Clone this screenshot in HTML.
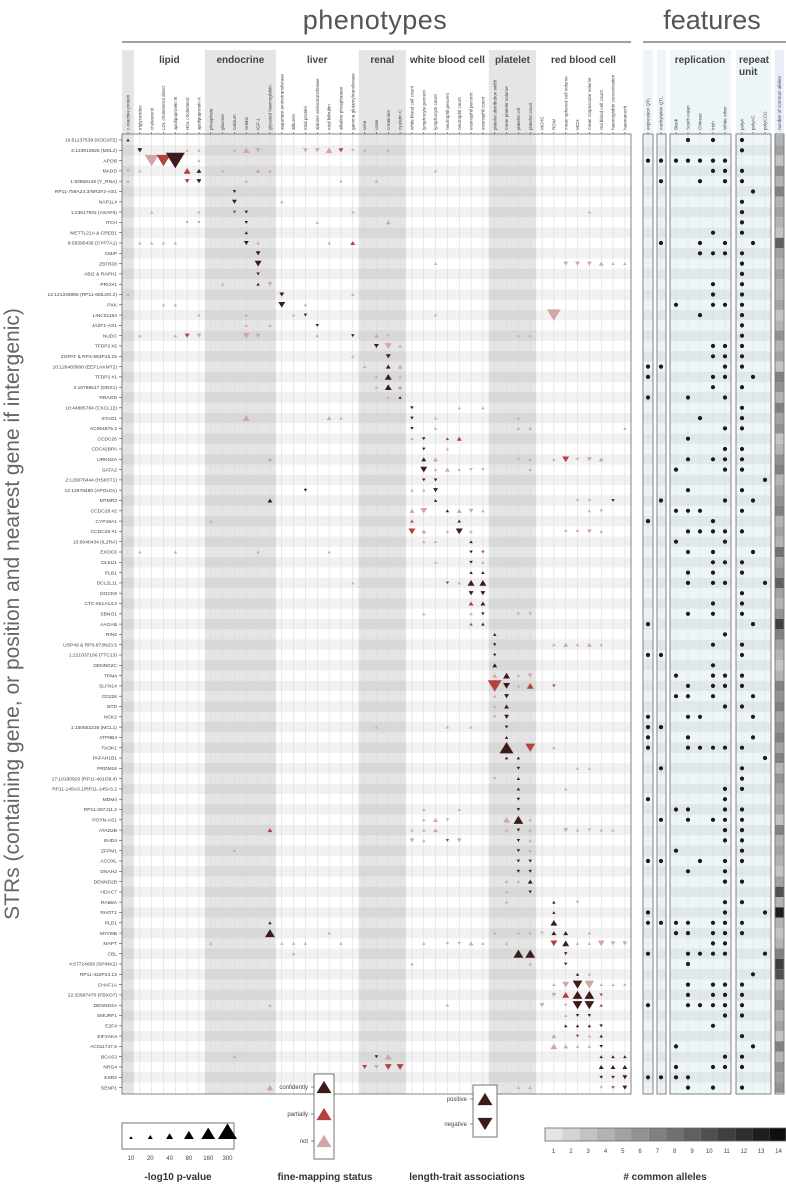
<!DOCTYPE html>
<html><head><meta charset="utf-8"><title>STR phenotype associations</title>
<style>
html,body{margin:0;padding:0;background:#fff;}
svg{display:block;font-family:"Liberation Sans",sans-serif;}
</style></head>
<body>
<svg id="chart" width="786" height="1190" viewBox="0 0 786 1190" xmlns="http://www.w3.org/2000/svg">
<g id="bg"></g><g id="grid"></g><g id="marks"></g><g id="feat"></g><g id="labels"></g><g id="legend"></g>
</svg>
<script>
const rowLabels = ["16:51137539 (SOD1P2)","3:123916825 (MSL2)","APOB","MADD","1:93858126 (Y_RNA)","RP11-759A24.3/NR2F2-AS1","NAP1L4","1:23817932 (ASAP3)","ITCH","METTL21A & CREB1","8:59395436 (CYP7A1)","CMIP","ZBTB38","ABI2 & RAPH1","PROX1","12:121346985 (RP11-665J20.2)","PXK","LINC01184","JAZF1-AS1","NUDC","TFDP2 #2","ZGPAT & RP4-583P15.15","10:126483088 (EEF1AKMT2)","TFDP2 #1","2:15786517 (DDX1)","RRAGD","10:44885784 (CXCL12)","STAG1","AC064875.2","CCDC26","CDC42BPA","URKN2A","GATA2","2:129076444 (HS6ST1)","12:12878480 (APOLD1)","MTMR3","CCDC26 #2","CYP19A1","CCDC26 #1","10:6040434 (IL2RA)","EXOC6","DLEU1","PLB1","BCL2L11","DOCK8","CTC-551A13.2","SBNO1","AAGAB","RIN2","USP49 & RP5-973N23.5","1:221037166 (TTC13)","DENND2C","TPM4","SLFN14","CD226","BTD","NCK2","1:150552235 (MCL1)","ATP8B4","TAOK1","PAFAH1B1","PRDM16","17:10180929 (RP11-401O9.4)","RP11-145A3.1/RP11-145A3.2","MDM4","RP11-287J11.2","POYN-AS1","ATAD2B","EHD4","ZFPM1","ACOXL","DNAH2","DENND2B","HDAC7","RAB8A","RHOT1","PLD1","MYO9B","MAPT","CBL","4:57724658 (SPINK2)","RP11-422P24.13","CHAF1A","22:32897470 (FBXO7)","DENND4A","SMURF1","E2F4","EIF2AK4","AC011747.6","BCAS3","NRG4","ESR2","SENP1"];
const colLabels = ["c-reactive protein","triglycerides","cholesterol","LDL cholesterol direct","apolipoprotein B","HDL cholesterol","apolipoprotein A","phosphate","glucose","calcium","SHBG","IGF-1","glycated haemoglobin","aspartate aminotransferase","albumin","total protein","alanine aminotransferase","total bilirubin","alkaline phosphatase","gamma glutamyltransferase","urea","urate","creatinine","cystatin C","white blood cell count","lymphocyte percent","lymphocyte count","neutrophil percent","neutrophil count","eosinophil percent","eosinophil count","platelet distribution width","mean platelet volume","platelet crit","platelet count","MCHC","RDW","mean sphered cell volume","MCH","mean corpuscular volume","red blood cell count","haemoglobin concentration","haematocrit"];
const groupNames = ["lipid","endocrine","liver","renal","white blood cell","platelet","red blood cell"];
const groupStart = [1,7,13,20,24,31,35];
const groupEnd = [6,12,19,23,30,34,42];
const groupShaded = [0,1,0,1,0,1,0];
// marks: [row, col, -log10 p, status (c=confidently,p=partially,n=not), direction (u/d)]
const marks = [
[0,0,10,'c','u'],
[1,1,20,'c','d'],[1,5,10,'n','u'],[1,6,10,'n','u'],[1,9,10,'n','u'],[1,10,40,'n','u'],[1,11,20,'n','d'],[1,15,20,'n','d'],[1,16,20,'n','d'],[1,17,40,'n','u'],[1,18,20,'p','d'],[1,19,10,'n','d'],[1,20,10,'n','u'],[1,22,10,'n','u'],
[2,2,160,'n','d'],[2,3,160,'p','d'],[2,4,300,'c','d'],[2,6,10,'n','u'],
[3,0,10,'n','d'],[3,1,10,'n','u'],[3,5,40,'p','u'],[3,6,20,'c','u'],[3,8,10,'n','u'],[3,11,20,'n','u'],[3,12,10,'n','u'],[3,26,10,'n','u'],
[4,0,10,'n','u'],[4,5,20,'p','d'],[4,6,20,'c','d'],[4,10,10,'n','u'],[4,18,10,'n','u'],[4,21,10,'n','u'],
[5,9,10,'c','d'],
[6,9,20,'c','d'],[6,13,10,'n','u'],
[7,2,10,'n','u'],[7,6,10,'n','u'],[7,9,10,'p','d'],[7,10,10,'c','d'],[7,19,10,'n','u'],[7,39,10,'n','u'],
[8,5,10,'n','d'],[8,6,10,'n','d'],[8,10,10,'c','d'],[8,16,10,'n','u'],[8,22,20,'n','u'],
[9,10,10,'c','u'],
[10,1,10,'n','u'],[10,2,10,'n','u'],[10,3,10,'n','u'],[10,4,10,'n','u'],[10,10,20,'c','d'],[10,11,10,'n','u'],[10,17,10,'n','u'],[10,19,20,'p','u'],
[11,11,20,'c','d'],
[12,11,40,'c','d'],[12,26,10,'n','u'],[12,37,20,'n','d'],[12,38,20,'n','d'],[12,39,20,'n','d'],[12,40,20,'n','u'],[12,41,10,'n','u'],[12,42,10,'n','u'],
[13,11,10,'c','d'],
[14,8,10,'n','u'],[14,11,10,'c','u'],[14,12,20,'n','d'],
[15,0,10,'n','u'],[15,13,20,'c','d'],[15,19,10,'n','u'],
[16,3,10,'n','u'],[16,4,10,'n','u'],[16,13,40,'c','d'],[16,15,10,'n','u'],
[17,6,10,'n','u'],[17,10,10,'n','u'],[17,14,10,'n','u'],[17,15,10,'c','d'],[17,26,10,'n','u'],[17,36,160,'n','d'],
[18,10,10,'n','u'],[18,12,10,'n','u'],[18,16,10,'c','d'],
[19,1,10,'n','u'],[19,4,10,'n','u'],[19,5,20,'p','d'],[19,6,20,'n','d'],[19,10,40,'n','d'],[19,11,20,'n','d'],[19,16,10,'n','u'],[19,19,10,'c','d'],[19,21,20,'n','u'],[19,22,10,'n','d'],[19,33,10,'n','u'],[19,34,10,'n','u'],
[20,21,20,'c','d'],[20,22,40,'n','d'],[20,23,10,'n','u'],
[21,19,10,'n','u'],[21,22,20,'c','d'],
[22,20,10,'n','u'],[22,22,20,'c','u'],[22,23,20,'n','u'],
[23,21,10,'n','u'],[23,22,40,'c','u'],[23,23,10,'n','u'],
[24,21,10,'n','u'],[24,22,40,'c','u'],[24,23,20,'n','u'],
[25,22,10,'n','u'],[25,23,10,'c','u'],
[26,24,10,'c','d'],[26,28,10,'n','u'],[26,30,10,'n','u'],
[27,10,40,'n','u'],[27,17,20,'n','u'],[27,18,10,'n','u'],[27,24,10,'c','d'],[27,26,10,'n','u'],[27,33,10,'n','u'],
[28,24,10,'c','d'],[28,26,10,'n','u'],[28,33,10,'n','u'],[28,34,10,'n','u'],[28,42,10,'n','u'],
[29,24,10,'n','u'],[29,25,10,'c','d'],[29,27,10,'p','u'],[29,28,20,'p','u'],
[30,25,10,'c','d'],[30,27,10,'n','u'],
[31,12,20,'n','u'],[31,25,20,'c','u'],[31,26,20,'n','u'],[31,33,10,'n','d'],[31,34,10,'n','u'],[31,36,10,'n','u'],[31,37,40,'p','d'],[31,38,10,'n','d'],[31,39,20,'n','d'],[31,40,20,'n','u'],
[32,25,40,'c','d'],[32,26,10,'n','u'],[32,27,20,'n','u'],[32,28,10,'n','u'],[32,29,10,'n','d'],[32,30,10,'n','d'],[32,34,10,'n','u'],
[33,25,10,'c','d'],[33,26,10,'c','d'],
[34,15,10,'c','d'],[34,24,10,'n','u'],[34,25,10,'n','u'],[34,26,20,'c','d'],
[35,12,20,'c','u'],[35,26,10,'c','u'],[35,38,10,'n','d'],[35,39,10,'n','d'],[35,41,10,'c','d'],
[36,24,20,'n','u'],[36,25,40,'n','d'],[36,27,10,'c','u'],[36,28,20,'n','u'],[36,29,20,'n','d'],[36,30,10,'n','u'],[36,39,10,'n','u'],[36,40,10,'n','d'],
[37,7,10,'n','u'],[37,24,10,'p','u'],[37,28,10,'c','u'],
[38,24,40,'p','d'],[38,25,20,'n','u'],[38,27,10,'n','u'],[38,28,40,'c','d'],[38,29,10,'n','u'],[38,37,10,'n','d'],[38,38,10,'n','d'],[38,39,20,'n','d'],[38,40,10,'n','u'],
[39,25,10,'n','u'],[39,26,10,'n','u'],[39,29,10,'c','u'],
[40,1,10,'n','u'],[40,4,10,'n','u'],[40,11,10,'n','u'],[40,17,10,'n','u'],[40,29,10,'c','d'],[40,30,10,'p','d'],
[41,26,10,'n','u'],[41,29,10,'c','d'],[41,30,10,'n','u'],
[42,29,10,'c','u'],[42,30,10,'c','u'],
[43,19,10,'n','u'],[43,27,10,'p','d'],[43,28,10,'n','u'],[43,29,40,'c','u'],[43,30,40,'c','u'],
[44,29,20,'c','d'],[44,30,20,'c','d'],
[45,29,20,'p','u'],[45,30,20,'c','u'],
[46,25,10,'n','u'],[46,29,10,'n','u'],[46,30,10,'c','d'],[46,33,10,'n','d'],[46,34,10,'n','d'],
[47,29,10,'p','u'],[47,30,10,'c','u'],
[48,31,10,'c','u'],
[49,31,10,'c','d'],[49,36,10,'n','u'],[49,37,20,'n','u'],[49,38,10,'n','u'],[49,39,20,'n','u'],[49,40,10,'n','u'],
[50,31,10,'c','d'],
[51,31,20,'c','u'],
[52,31,20,'n','u'],[52,32,40,'c','u'],[52,33,10,'n','u'],[52,34,20,'n','d'],
[53,31,160,'p','d'],[53,32,40,'c','d'],[53,33,10,'n','u'],[53,34,40,'p','u'],[53,36,10,'p','d'],
[54,31,10,'n','u'],[54,32,20,'c','d'],
[55,31,10,'n','u'],[55,32,20,'c','u'],
[56,31,10,'n','d'],[56,32,20,'c','d'],
[57,21,10,'n','u'],[57,27,10,'n','u'],[57,29,10,'n','u'],[57,32,10,'c','d'],
[58,32,10,'c','u'],
[59,32,160,'c','u'],[59,34,80,'p','d'],[59,36,10,'n','u'],
[60,32,10,'c','u'],[60,33,10,'c','u'],
[61,33,10,'c','d'],[61,38,10,'n','u'],[61,39,10,'n','u'],
[62,31,10,'n','d'],[62,33,10,'c','u'],
[63,33,10,'c','u'],[63,37,10,'n','u'],
[64,33,10,'c','d'],
[65,25,10,'n','u'],[65,28,10,'n','u'],[65,33,10,'c','d'],
[66,25,10,'n','u'],[66,26,20,'n','u'],[66,27,10,'n','d'],[66,32,40,'n','u'],[66,33,80,'c','u'],[66,34,10,'n','u'],
[67,12,20,'p','u'],[67,24,10,'n','u'],[67,25,10,'n','u'],[67,26,20,'n','u'],[67,32,10,'n','u'],[67,33,10,'c','d'],[67,34,10,'n','u'],[67,37,20,'n','d'],[67,38,10,'n','u'],[67,39,10,'n','d'],[67,40,10,'n','u'],[67,41,10,'n','u'],
[68,24,20,'n','d'],[68,25,10,'n','u'],[68,27,10,'p','d'],[68,28,20,'n','d'],[68,33,10,'c','d'],[68,34,10,'n','u'],
[69,9,10,'n','u'],[69,33,10,'c','d'],[69,34,10,'n','u'],
[70,33,10,'c','d'],[70,34,10,'c','d'],
[71,33,10,'c','d'],[71,34,10,'c','d'],
[72,32,10,'n','u'],[72,33,10,'n','u'],[72,34,20,'c','u'],
[73,32,10,'n','u'],[73,34,10,'c','d'],
[74,32,10,'n','u'],[74,36,10,'c','u'],[74,38,10,'n','d'],
[75,36,10,'c','u'],
[76,12,10,'c','u'],[76,36,40,'c','u'],
[77,12,80,'c','u'],[77,17,10,'n','u'],[77,31,10,'n','u'],[77,33,10,'n','u'],[77,34,10,'n','u'],[77,35,10,'n','d'],[77,36,20,'c','u'],[77,37,20,'c','u'],[77,39,10,'n','u'],
[78,7,10,'n','u'],[78,13,10,'n','u'],[78,14,10,'n','u'],[78,15,10,'n','u'],[78,18,10,'n','u'],[78,25,10,'n','u'],[78,27,10,'n','d'],[78,28,10,'n','d'],[78,29,20,'n','u'],[78,30,10,'n','u'],[78,32,10,'n','u'],[78,36,40,'p','d'],[78,37,40,'c','u'],[78,38,10,'n','u'],[78,39,10,'n','u'],[78,40,40,'n','d'],[78,41,20,'n','d'],[78,42,20,'n','d'],
[79,14,10,'n','u'],[79,33,80,'c','u'],[79,34,80,'c','u'],[79,37,10,'c','d'],
[80,24,10,'n','u'],[80,34,10,'n','u'],[80,37,10,'c','d'],
[81,38,10,'c','u'],[81,39,10,'n','u'],
[82,36,10,'n','u'],[82,37,40,'n','d'],[82,38,80,'c','d'],[82,39,80,'n','d'],[82,40,10,'n','u'],[82,41,10,'n','u'],[82,42,10,'n','u'],
[83,36,20,'n','d'],[83,37,40,'p','u'],[83,38,80,'c','u'],[83,39,80,'c','u'],[83,40,10,'p','d'],
[84,12,10,'n','u'],[84,27,10,'n','u'],[84,35,20,'n','d'],[84,37,10,'n','d'],[84,38,80,'c','d'],[84,39,80,'c','d'],[84,40,10,'p','u'],
[85,37,10,'n','u'],[85,38,10,'c','d'],[85,39,10,'c','d'],
[86,37,10,'c','u'],[86,38,10,'c','u'],[86,39,10,'c','u'],[86,40,10,'c','d'],
[87,36,20,'n','u'],[87,38,10,'p','d'],[87,39,10,'n','u'],[87,40,10,'c','u'],
[88,36,40,'n','u'],[88,37,20,'n','u'],[88,38,10,'n','u'],[88,39,10,'n','u'],[88,40,10,'c','d'],
[89,9,10,'n','u'],[89,21,10,'c','d'],[89,22,40,'n','u'],[89,40,10,'c','u'],[89,41,10,'c','u'],[89,42,10,'c','u'],
[90,20,20,'p','d'],[90,21,20,'n','d'],[90,22,40,'p','d'],[90,23,40,'p','d'],[90,40,20,'c','u'],[90,41,20,'c','u'],[90,42,20,'c','u'],
[91,40,10,'c','d'],[91,41,10,'c','d'],[91,42,20,'c','d'],
[92,12,40,'n','u'],[92,33,10,'n','u'],[92,34,10,'n','u'],[92,40,10,'n','d'],[92,41,10,'p','d'],[92,42,20,'c','d']
];
const featLabels = ["expression QTL","methylation QTL","Black","South Asian","Chinese","Irish","White other","polyA","polyAC","polyCCG"];
const featRows = [[3,5,7],[7],[0,1,2,3,4,5,6],[5,6,7],[1,4,6,7],[8],[7],[7],[7],[5,7],[1,4,6,8],[4,5,6,7],[7],[7],[5,7],[5,7],[2,5,6,7],[4,7],[7],[7],[5,6,7],[5,6,7],[0,1,6,7],[0,5,6,8],[5,7],[0,3,6],[7],[4,7],[6,7],[3],[6,7],[3,5,6,7],[2,6,7],[9],[3,7],[1,6,8],[2,3,4,7],[0,5],[3,4,5,6,7],[2,6],[3,5,8],[5,6,7],[3,5,7],[3,5,6,9],[7],[5,7],[3,5,7],[0,8],[6],[5,7],[0,1,7],[5],[2,5,6,7],[3,5,6,7],[2,3,5,8],[6,7],[0,3,4,8],[0,1],[0,3,8],[0,3,4,5,6,7],[9],[1,7],[7],[6,7],[0,6],[2,3,6,7],[1,3,5,6,7],[6,7],[6,7],[2,7],[0,1,4,6,7],[3,6],[6,7],[],[6,7],[0,6,9],[0,1,2,3,5,6,7],[2,3,5,6,7],[5,6],[0,3,4,5,6,9],[3],[8],[3,5,6,7],[3,5,6,7],[0,3,4,5,6,7],[6,7],[5],[7],[2,8],[6,7],[2,5,6,7],[0,1,2,3],[3,5,7]];
const commonAlleles = [4,5,3,6,4,7,4,5,4,3,9,5,4,5,4,4,5,3,4,6,4,5,3,7,6,4,7,5,6,3,4,6,7,4,5,6,7,4,5,4,8,5,6,9,5,4,6,11,7,5,4,3,4,7,6,7,5,6,7,5,7,4,6,5,4,5,3,7,4,5,4,3,5,10,4,13,4,3,4,7,11,10,4,5,6,4,5,3,7,4,6,5,6];
const pLegend = [10,20,40,80,160,300];
const alleleTicks = [1,2,3,4,5,6,7,8,9,10,11,12,13,14];

const NS="http://www.w3.org/2000/svg";
function mk(parent,tag,attrs,text){const e=document.createElementNS(NS,tag);for(const k in attrs)e.setAttribute(k,attrs[k]);if(text!==undefined)e.textContent=text;parent.appendChild(e);return e;}
const X0=128, DX=11.83, Y0=140, DY=10.3;
const gL=122, gR=631, gT=134, gB=1094;
const colX=c=>X0+c*DX;
const rowY=r=>Y0+r*DY;
const triW=p=>1.1*Math.sqrt(p);
const statusColor={c:'#3d1b19',p:'#b3423a',n:'#d2a6a4'};
const alleleGray=v=>{const l=Math.round(228-(v-1)*16.5);return `rgb(${l},${l},${l+2})`;};
function tri(parent,x,y,w,dir,fill){const h=w*0.82;const pts=dir==='u'?`${x},${y-h/2} ${x-w/2},${y+h/2} ${x+w/2},${y+h/2}`:`${x},${y+h/2} ${x-w/2},${y-h/2} ${x+w/2},${y-h/2}`;return mk(parent,'polygon',{points:pts,fill:fill});}

const bg=document.getElementById('bg'),grid=document.getElementById('grid'),mg=document.getElementById('marks'),fg=document.getElementById('feat'),lg=document.getElementById('labels'),leg=document.getElementById('legend');

// titles
let t=mk(lg,'text',{x:375,y:29,'text-anchor':'middle','font-size':27,fill:'#555','letter-spacing':'0.5'},'phenotypes');

mk(lg,'line',{x1:gL,y1:42,x2:gR,y2:42,stroke:'#666','stroke-width':1.2});
t=mk(lg,'text',{x:712,y:29,'text-anchor':'middle','font-size':27,fill:'#555'},'features');

mk(lg,'line',{x1:643,y1:42,x2:786,y2:42,stroke:'#666','stroke-width':1.2});
t=mk(lg,'text',{x:0,y:0,'text-anchor':'middle','font-size':21,fill:'#666',transform:'translate(19,614) rotate(-90)'},'STRs (containing gene, or position and nearest gene if intergenic)');


// row stripes in main grid
for(let r=0;r<rowLabels.length;r++){if(r%2===1){mk(bg,'rect',{x:gL,y:rowY(r)-DY/2,width:gR-gL,height:DY,fill:'#f1f1f1'});}}
// shaded columns
const bands=[[colX(0)-DX/2,colX(0)+DX/2]];
for(let g=0;g<groupNames.length;g++){if(groupShaded[g])bands.push([colX(groupStart[g])-DX/2,colX(groupEnd[g])+DX/2]);}
bands.forEach(b=>{mk(bg,'rect',{x:b[0],y:50,width:b[1]-b[0],height:gB-50,fill:'#000','fill-opacity':0.1});});
// vertical lines and ticks
for(let c=0;c<colLabels.length;c++){const x=colX(c);mk(grid,'line',{x1:x,y1:gT,x2:x,y2:gB,stroke:'#d6d6d6','stroke-width':0.5});mk(grid,'line',{x1:x,y1:gT-2,x2:x,y2:gT,stroke:'#444','stroke-width':0.6});
 const cl=mk(lg,'text',{x:0,y:0,'font-size':4.6,fill:'#444',transform:`translate(${x+1.6},${gT-4}) rotate(-90)`},colLabels[c]);
 }
mk(grid,'rect',{x:gL,y:gT,width:gR-gL,height:gB-gT,fill:'none',stroke:'#777','stroke-width':0.9});
// group labels
for(let g=0;g<groupNames.length;g++){const cx=(colX(groupStart[g])+colX(groupEnd[g]))/2;const gl=mk(lg,'text',{x:cx,y:63,'text-anchor':'middle','font-size':10,'font-weight':'bold',fill:'#444'},groupNames[g]);}
// row labels and ticks
for(let r=0;r<rowLabels.length;r++){const y=rowY(r);mk(grid,'line',{x1:gL-3,y1:y,x2:gL,y2:y,stroke:'#444','stroke-width':0.6});const rl=mk(lg,'text',{x:gL-5,y:y+1.7,'text-anchor':'end','font-size':4.9,fill:'#444'},rowLabels[r]);}
// marks
marks.forEach(m=>{const el=tri(mg,colX(m[1]),rowY(m[0]),triW(m[2]),m[4],statusColor[m[3]]);
 
 });

// features panels
const featX=[648,661,676,688,700,713,725,742,753,765];
const panels=[[643,653,'eqtl-panel'],[657,666,'mqtl-panel'],[670,731,'replication-panel'],[736,771,'repeat-unit-panel']];
panels.forEach(p=>{mk(fg,'rect',{x:p[0],y:50,width:p[1]-p[0],height:gB-50,fill:'#eef5f9'});
 for(let r=0;r<rowLabels.length;r++){if(r%2===1)mk(fg,'rect',{x:p[0],y:rowY(r)-DY/2,width:p[1]-p[0],height:DY,fill:'#000','fill-opacity':0.05});}});
mk(fg,'rect',{x:775,y:50,width:9,height:gB-50,fill:'#e8eef8'});
featX.forEach(x=>{mk(fg,'line',{x1:x,y1:gT,x2:x,y2:gB,stroke:'#d5dbe0','stroke-width':0.5});mk(fg,'line',{x1:x,y1:gT-2,x2:x,y2:gT,stroke:'#444','stroke-width':0.6});});
panels.forEach(p=>{const b=mk(fg,'rect',{x:p[0],y:gT,width:p[1]-p[0],height:gB-gT,fill:'none',stroke:'#777','stroke-width':0.9});});
for(let i=0;i<featLabels.length;i++){const fl=mk(lg,'text',{x:0,y:0,'font-size':4.6,fill:'#444',transform:`translate(${featX[i]+1.6},${gT-4}) rotate(-90)`},featLabels[i]);}
let ft=mk(lg,'text',{x:0,y:0,'font-size':4.6,fill:'#444',transform:`translate(781,${gT-4}) rotate(-90)`},'number of common alleles');

ft=mk(lg,'text',{x:700,y:63,'text-anchor':'middle','font-size':10,'font-weight':'bold',fill:'#444'},'replication');

ft=mk(lg,'text',{x:739,y:63,'font-size':10,'font-weight':'bold',fill:'#444'},'repeat');

mk(lg,'text',{x:739,y:75,'font-size':10,'font-weight':'bold',fill:'#444'},'unit');
featRows.forEach((fs,r)=>{fs.forEach(f=>{const d=mk(fg,'circle',{cx:featX[f],cy:rowY(r),r:2.1,fill:'#1a1a1a'});
 
 });});
commonAlleles.forEach((v,r)=>{const c=mk(fg,'rect',{x:775,y:rowY(r)-DY/2,width:9,height:DY,fill:alleleGray(v)});
 
 });
mk(fg,'rect',{x:775,y:gT,width:9,height:gB-gT,fill:'none',stroke:'#777','stroke-width':0.9});

// legends
let lb=mk(leg,'rect',{x:122,y:1123,width:112,height:26,fill:'#fff',stroke:'#666','stroke-width':0.9});

pLegend.forEach((p,i)=>{const x=131+i*19.3;tri(leg,x,1139-triW(p)*0.41+ (triW(p)*0.41) -triW(p)*0.41,triW(p),'u','#000');mk(leg,'text',{x:x,y:1160,'text-anchor':'middle','font-size':6,fill:'#444'},String(p));});
mk(leg,'text',{x:178,y:1180,'text-anchor':'middle','font-size':10,'font-weight':'bold',fill:'#333'},'-log10 p-value');
lb=mk(leg,'rect',{x:314,y:1074,width:20,height:85,fill:'#fff',stroke:'#666','stroke-width':0.9});

[['confidently','c',1087],['partially','p',1114],['not','n',1141]].forEach(s=>{tri(leg,324,s[2],15,'u',statusColor[s[1]]);mk(leg,'text',{x:308,y:s[2]+2,'text-anchor':'end','font-size':6,fill:'#444'},s[0]);mk(leg,'line',{x1:311,y1:s[2],x2:314,y2:s[2],stroke:'#444','stroke-width':0.6});});
mk(leg,'text',{x:325,y:1180,'text-anchor':'middle','font-size':10,'font-weight':'bold',fill:'#333'},'fine-mapping status');
lb=mk(leg,'rect',{x:473,y:1085,width:24,height:52,fill:'#fff',stroke:'#666','stroke-width':0.9});

[['positive','u',1099],['negative','d',1124]].forEach(s=>{tri(leg,485,s[2],15,s[1],'#3d1b19');mk(leg,'text',{x:467,y:s[2]+2,'text-anchor':'end','font-size':6,fill:'#444'},s[0]);mk(leg,'line',{x1:470,y1:s[2],x2:473,y2:s[2],stroke:'#444','stroke-width':0.6});});
mk(leg,'text',{x:467,y:1180,'text-anchor':'middle','font-size':10,'font-weight':'bold',fill:'#333'},'length-trait associations');
alleleTicks.forEach((v,i)=>{const x=545+i*17.3;const c=mk(leg,'rect',{x:x,y:1128,width:17.3,height:13,fill:alleleGray(v)});mk(leg,'text',{x:x+8.6,y:1153,'text-anchor':'middle','font-size':6,fill:'#444'},String(v));});
mk(leg,'rect',{x:545,y:1128,width:241,height:13,fill:'none',stroke:'#666','stroke-width':0.8});
mk(leg,'text',{x:665,y:1180,'text-anchor':'middle','font-size':10,'font-weight':'bold',fill:'#333'},'# common alleles');
</script>
</body></html>
